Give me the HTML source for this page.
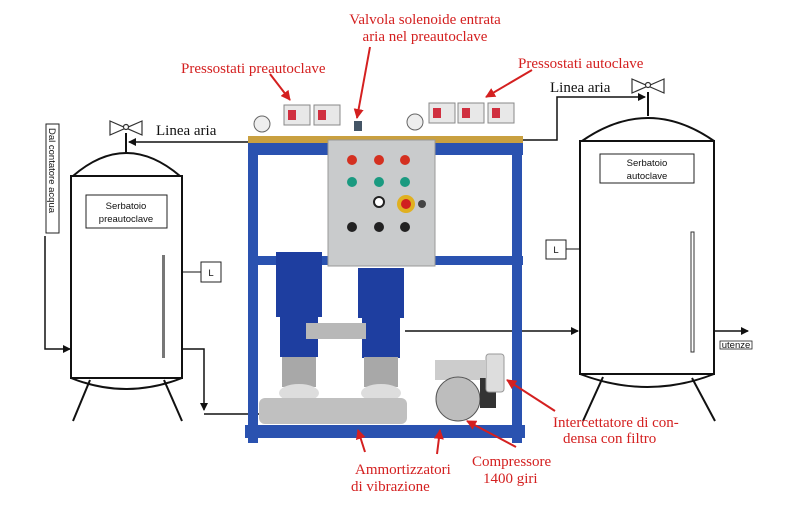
<!DOCTYPE html>
<html><head><meta charset="utf-8"><style>
html,body{margin:0;padding:0;background:#fff;width:800px;height:529px;overflow:hidden}
svg{display:block}
.r{fill:#d42020;font-family:"Liberation Serif",serif;font-size:15px}
.k{fill:#111;font-family:"Liberation Serif",serif;font-size:15px}
.s{fill:#111;font-family:"Liberation Sans",sans-serif;font-size:9.5px}
</style></head><body>
<svg width="800" height="529" viewBox="0 0 800 529" xmlns="http://www.w3.org/2000/svg">
<defs>
<marker id="a" markerWidth="8" markerHeight="8" refX="7" refY="4" orient="auto" markerUnits="userSpaceOnUse"><path d="M0,0 L8,4 L0,8z" fill="#111"/></marker>
<marker id="ra" markerWidth="10" markerHeight="10" refX="9" refY="5" orient="auto" markerUnits="userSpaceOnUse"><path d="M0,0 L10,5 L0,10z" fill="#d42020"/></marker>
</defs>

<!-- LEFT TANK -->
<g stroke="#111" stroke-width="2" fill="none">
<path d="M73,176 Q126,130 180,176"/>
<rect x="71" y="176" width="111" height="202" fill="#fff"/>
<path d="M71,378 Q126,400 182,378"/>
<line x1="90" y1="380" x2="73" y2="421"/><line x1="164" y1="380" x2="182" y2="421"/>
<line x1="126" y1="133" x2="126" y2="154"/>
<line x1="182" y1="272" x2="201" y2="272" stroke-width="1"/>
</g>
<rect x="162" y="255" width="3" height="103" fill="#777"/>
<rect x="86" y="195" width="81" height="33" fill="#fff" stroke="#222"/>
<text class="s" x="126" y="209" text-anchor="middle">Serbatoio</text>
<text class="s" x="126" y="222" text-anchor="middle">preautoclave</text>
<rect x="201" y="262" width="20" height="20" fill="#fff" stroke="#222"/>
<text class="s" x="211" y="276" text-anchor="middle" font-size="11">L</text>
<g stroke="#333" stroke-width="1.2" fill="#fff">
<path d="M110,121 L126,128 L110,135z M142,121 L126,128 L142,135z"/><circle cx="126" cy="127" r="2.5"/>
</g>
<text class="k" x="156" y="135">Linea aria</text>
<line x1="250" y1="142" x2="129" y2="142" stroke="#111" stroke-width="1.5" marker-end="url(#a)"/>
<rect x="46" y="124" width="13" height="109" fill="#fff" stroke="#222"/>
<text class="s" x="49" y="128" transform="rotate(90 49 128)" font-size="10">Dal contatore acqua</text>
<polyline points="45,236 45,349 70,349" fill="none" stroke="#111" stroke-width="1.5" marker-end="url(#a)"/>
<polyline points="182,349 204,349 204,410" fill="none" stroke="#111" stroke-width="1.5" marker-end="url(#a)"/>
<line x1="204" y1="414" x2="260" y2="414" stroke="#111" stroke-width="1.5"/>

<!-- RIGHT TANK -->
<g stroke="#111" stroke-width="2" fill="none">
<path d="M582,141 Q648,95 714,141"/>
<rect x="580" y="141" width="134" height="233" fill="#fff"/>
<path d="M580,374 Q648,400 714,374"/>
<line x1="603" y1="377" x2="583" y2="421"/><line x1="692" y1="378" x2="715" y2="421"/>
<line x1="648" y1="92" x2="648" y2="116"/>
<line x1="566" y1="249" x2="580" y2="249" stroke-width="1"/>
</g>
<rect x="691" y="232" width="3" height="120" fill="#fff" stroke="#333" stroke-width="1"/>
<rect x="600" y="154" width="94" height="29" fill="#fff" stroke="#222"/>
<text class="s" x="647" y="166" text-anchor="middle">Serbatoio</text>
<text class="s" x="647" y="179" text-anchor="middle">autoclave</text>
<rect x="546" y="240" width="20" height="19" fill="#fff" stroke="#222"/>
<text class="s" x="556" y="253" text-anchor="middle" font-size="11">L</text>
<g stroke="#333" stroke-width="1.2" fill="#fff">
<path d="M632,79 L648,86 L632,93z M664,79 L648,86 L664,93z"/><circle cx="648" cy="85" r="2.5"/>
</g>
<text class="k" x="550" y="92">Linea aria</text>
<polyline points="522,140 557,140 557,97 645,97" fill="none" stroke="#111" stroke-width="1.5" marker-end="url(#a)"/>
<line x1="405" y1="331" x2="578" y2="331" stroke="#111" stroke-width="1.5" marker-end="url(#a)"/>
<line x1="714" y1="331" x2="748" y2="331" stroke="#111" stroke-width="1.5" marker-end="url(#a)"/>
<rect x="720" y="341" width="32" height="8" fill="#fff" stroke="#222" stroke-width="0.8"/>
<text class="s" x="736" y="348" text-anchor="middle" font-size="7">utenze</text>

<!-- MACHINE -->
<rect x="248" y="136" width="275" height="7" fill="#c9a040"/>
<g fill="#2a52b0">
<rect x="248" y="143" width="275" height="12"/>
<rect x="248" y="256" width="275" height="9"/>
<rect x="248" y="143" width="10" height="300"/>
<rect x="512" y="143" width="10" height="300"/>
<rect x="245" y="425" width="280" height="13"/>
</g>
<g fill="#eee" stroke="#666"><circle cx="262" cy="124" r="8"/><circle cx="415" cy="122" r="8"/></g>
<g fill="#e8e8e8" stroke="#888">
<rect x="284" y="105" width="26" height="20"/><rect x="314" y="105" width="26" height="20"/>
<rect x="429" y="103" width="26" height="20"/><rect x="458" y="103" width="26" height="20"/><rect x="488" y="103" width="26" height="20"/>
</g>
<g fill="#d03040"><rect x="288" y="110" width="8" height="10"/><rect x="318" y="110" width="8" height="10"/><rect x="433" y="108" width="8" height="10"/><rect x="462" y="108" width="8" height="10"/><rect x="492" y="108" width="8" height="10"/></g>
<rect x="354" y="121" width="8" height="10" fill="#456"/>
<rect x="328" y="140" width="107" height="126" fill="#c9cbcc" stroke="#999"/>
<g fill="#d43020"><circle cx="352" cy="160" r="5"/><circle cx="379" cy="160" r="5"/><circle cx="405" cy="160" r="5"/></g>
<g fill="#1a9a80"><circle cx="352" cy="182" r="5"/><circle cx="379" cy="182" r="5"/><circle cx="405" cy="182" r="5"/></g>
<circle cx="379" cy="202" r="5" fill="#fff" stroke="#222" stroke-width="2"/>
<circle cx="406" cy="204" r="9" fill="#e0b020"/><circle cx="406" cy="204" r="5" fill="#d02020"/>
<circle cx="422" cy="204" r="4" fill="#444"/>
<g fill="#222"><circle cx="352" cy="227" r="5"/><circle cx="379" cy="227" r="5"/><circle cx="405" cy="227" r="5"/></g>
<g fill="#1e3ea0">
<rect x="276" y="252" width="46" height="65"/><rect x="280" y="317" width="38" height="40"/>
<rect x="358" y="268" width="46" height="50"/><rect x="362" y="318" width="38" height="40"/>
</g>
<rect x="306" y="323" width="60" height="16" fill="#b8b8b8"/>
<rect x="282" y="357" width="34" height="30" fill="#a8a8a8"/><rect x="364" y="357" width="34" height="30" fill="#a8a8a8"/>
<ellipse cx="299" cy="393" rx="20" ry="9" fill="#ddd"/><ellipse cx="381" cy="393" rx="20" ry="9" fill="#ddd"/>
<rect x="259" y="398" width="148" height="26" rx="6" fill="#c0c0c0"/>
<rect x="435" y="360" width="50" height="20" fill="#ccc"/>
<circle cx="458" cy="399" r="22" fill="#bdbdbd" stroke="#555"/>
<rect x="480" y="378" width="16" height="30" fill="#333"/>
<rect x="486" y="354" width="18" height="38" rx="3" fill="#ddd" stroke="#999"/>

<!-- RED LABELS -->
<text class="r" x="181" y="73">Pressostati preautoclave</text>
<line x1="270" y1="74" x2="290" y2="100" stroke="#d42020" stroke-width="2" marker-end="url(#ra)"/>
<text class="r" x="425" y="24" text-anchor="middle">Valvola solenoide entrata</text>
<text class="r" x="425" y="41" text-anchor="middle">aria nel preautoclave</text>
<line x1="370" y1="47" x2="357" y2="118" stroke="#d42020" stroke-width="2" marker-end="url(#ra)"/>
<text class="r" x="518" y="68">Pressostati autoclave</text>
<line x1="532" y1="70" x2="486" y2="97" stroke="#d42020" stroke-width="2" marker-end="url(#ra)"/>
<text class="r" x="553" y="427">Intercettatore di con-</text>
<text class="r" x="563" y="443">densa con filtro</text>
<line x1="555" y1="411" x2="507" y2="380" stroke="#d42020" stroke-width="2" marker-end="url(#ra)"/>
<text class="r" x="472" y="466">Compressore</text>
<text class="r" x="483" y="483">1400 giri</text>
<line x1="516" y1="447" x2="467" y2="421" stroke="#d42020" stroke-width="2" marker-end="url(#ra)"/>
<text class="r" x="355" y="474">Ammortizzatori</text>
<text class="r" x="351" y="491">di vibrazione</text>
<line x1="365" y1="452" x2="358" y2="430" stroke="#d42020" stroke-width="2" marker-end="url(#ra)"/>
<line x1="437" y1="454" x2="440" y2="430" stroke="#d42020" stroke-width="2" marker-end="url(#ra)"/>
</svg>
</body></html>
